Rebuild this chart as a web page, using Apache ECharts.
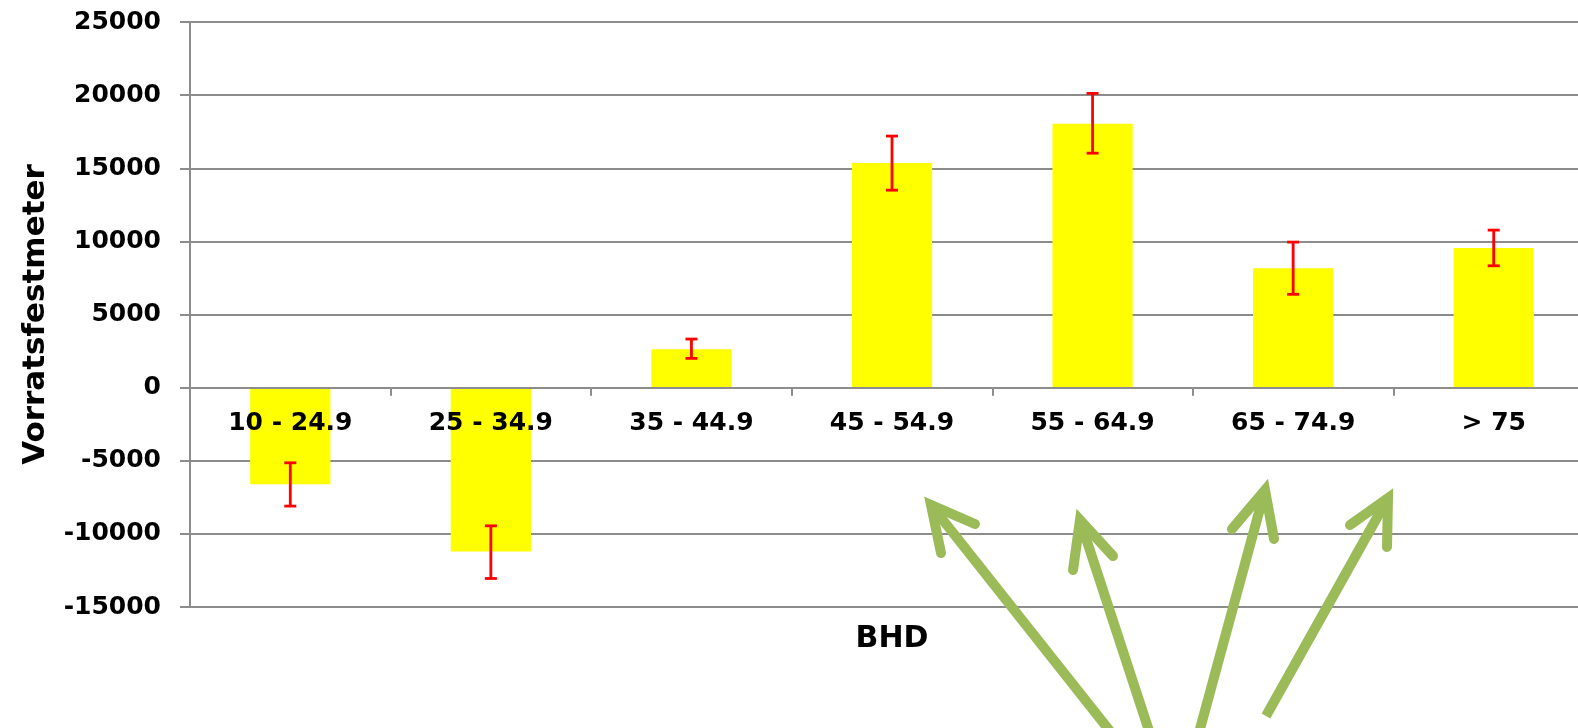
<!DOCTYPE html>
<html><head><meta charset="utf-8">
<script src="https://cdn.jsdelivr.net/npm/echarts@6/dist/echarts.min.js"></script>
<style>html,body{margin:0;padding:0;background:#fff}#c{width:1578px;height:728px}</style>
</head><body><div id="c"></div>
<script>
const categories = ['10 - 24.9', '25 - 34.9', '35 - 44.9', '45 - 54.9', '55 - 64.9', '65 - 74.9', '> 75'];
const values = [-6600, -11200, 2630, 15360, 18050, 8170, 9550];
const errLow = [-8100, -13050, 2000, 13500, 16030, 6380, 8330];
const errHigh = [-5140, -9450, 3320, 17200, 20120, 9950, 10770];
const yMin = -15000, yMax = 25000, yStep = 5000;

const FONT = 'DejaVu Sans';
const GRAY = '#8C8C8C';
const GREEN = '#9BBB59';
const GRID = {left: 190, right: -16, top: 22, bottom: 121};
const plotH = 728 - GRID.top - GRID.bottom;
// move the category axis up to the value 0 of the value axis
const zeroOffset = -plotH * (0 - yMin) / (yMax - yMin);

function arrow(tail, tip, b1, b2) {
  return [
    {type: 'line', z: 100, shape: {x1: tail[0], y1: tail[1], x2: tip[0], y2: tip[1]},
     style: {stroke: GREEN, lineWidth: 10, lineCap: 'butt'}},
    {type: 'polyline', z: 100, shape: {points: [b1, tip, b2]},
     style: {stroke: GREEN, lineWidth: 10, lineCap: 'round', lineJoin: 'miter', fill: null}}
  ];
}

const chart = echarts.init(document.getElementById('c'));
chart.setOption({
  animation: false,
  backgroundColor: '#fff',
  grid: Object.assign({containLabel: false, outerBoundsMode: 'none'}, GRID),
  xAxis: {
    type: 'category',
    data: categories,
    z: 10,
    offset: zeroOffset,
    axisLine: {onZero: false, lineStyle: {color: GRAY, width: 2}},
    axisTick: {show: true, length: 8, lineStyle: {color: GRAY, width: 2}},
    axisLabel: {interval: 0, margin: 23, color: '#000', fontFamily: FONT, fontWeight: 'bold', fontSize: 25},
    name: 'BHD',
    nameLocation: 'middle',
    nameGap: 237,
    nameTextStyle: {color: '#000', fontFamily: FONT, fontWeight: 'bold', fontSize: 30}
  },
  yAxis: {
    type: 'value',
    min: yMin, max: yMax, interval: yStep,
    axisLine: {show: true, lineStyle: {color: GRAY, width: 2}},
    axisTick: {show: true, length: 10, lineStyle: {color: GRAY, width: 2}},
    splitLine: {show: true, lineStyle: {color: GRAY, width: 2}},
    axisLabel: {margin: 29, color: '#000', fontFamily: FONT, fontWeight: 'bold', fontSize: 25,
      formatter: function (v) { return String(v); }},
    name: 'Vorratsfestmeter',
    nameLocation: 'middle',
    nameGap: 139,
    nameTextStyle: {color: '#000', fontFamily: FONT, fontWeight: 'bold', fontSize: 31}
  },
  series: [
    {
      type: 'bar',
      data: values,
      barWidth: '40%',
      itemStyle: {color: '#FFFF00'},
      z: 2
    },
    {
      type: 'custom',
      z: 5,
      data: categories.map((c, i) => [i, errLow[i], errHigh[i]]),
      encode: {x: 0, y: [1, 2]},
      renderItem: function (params, api) {
        const x = api.value(0);
        const lo = api.coord([x, api.value(1)]);
        const hi = api.coord([x, api.value(2)]);
        const hw = 6;
        const style = {stroke: '#FF0000', lineWidth: 2.8};
        return {type: 'group', children: [
          {type: 'line', shape: {x1: hi[0], y1: hi[1], x2: lo[0], y2: lo[1]}, style: style},
          {type: 'line', shape: {x1: hi[0] - hw, y1: hi[1], x2: hi[0] + hw, y2: hi[1]}, style: style},
          {type: 'line', shape: {x1: lo[0] - hw, y1: lo[1], x2: lo[0] + hw, y2: lo[1]}, style: style}
        ]};
      }
    }
  ],
  graphic: [].concat(
    arrow([1117, 740], [931, 505], [941, 553], [975, 524]),
    arrow([1152, 740], [1080, 520], [1073, 570], [1113, 556]),
    arrow([1197, 740], [1265, 490], [1232, 529], [1274, 539]),
    arrow([1266, 716], [1388, 498], [1350, 525], [1387, 547])
  )
});
</script></body></html>
